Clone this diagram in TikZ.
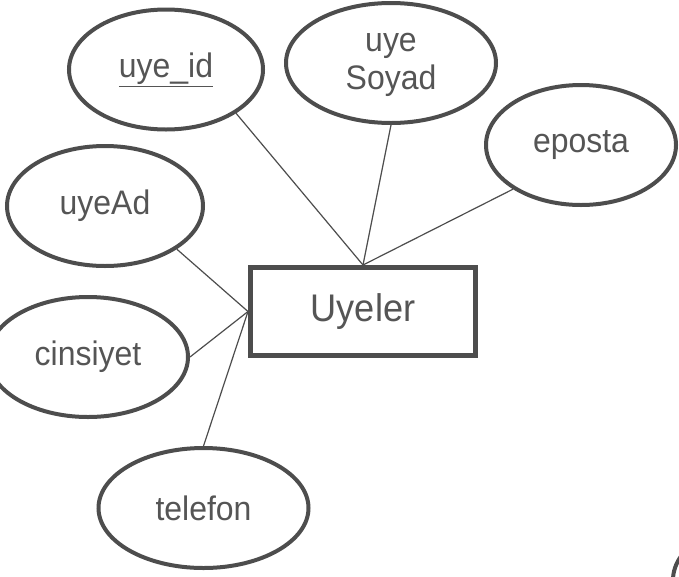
\documentclass[tikz,border=0pt]{standalone}
\usepackage{fontspec}
\setmainfont[FakeStretch=0.94]{Liberation Sans}
\usetikzlibrary{shapes.geometric}
\definecolor{ink}{HTML}{4D4D4D}
\definecolor{txt}{HTML}{555555}
\tikzset{
  attr/.style 2 args={ellipse, draw=ink, line width=4pt, minimum width=#1, minimum height=#2,
    inner sep=0pt, text=txt, font=\fontsize{34}{38}\selectfont, align=center},
  entity/.style={rectangle, draw=ink, line width=5pt, minimum width=225pt, minimum height=88pt,
    inner sep=0pt, text=txt, font=\fontsize{38.5}{42}\selectfont},
  link/.style={draw=ink, line width=1.2pt}
}
\begin{document}
\begin{tikzpicture}[x=1pt,y=-1pt]
\useasboundingbox (0,0) rectangle (679,576);
\clip (0,0) rectangle (679,576);
\fill[white] (0,0) rectangle (679,576);
\node[entity] (ent) at (363,311.5) {Uyeler};
\node[attr={194pt}{120pt}] (uid) at (166,69.5) {\underline{uye\_id}};
\node[attr={210pt}{120pt}] (soy) at (391,63) {\raisebox{-4pt}{\begin{tabular}{@{}c@{}}uye\\Soyad\end{tabular}}};
\node[attr={190pt}{120pt}] (epo) at (581,145) {eposta};
\node[attr={196pt}{120pt}] (uad) at (105,206) {uyeAd};
\node[attr={200pt}{120pt}] (cin) at (88,357) {cinsiyet};
\node[attr={210pt}{120pt}] (tel) at (203.5,508) {telefon};
\node[attr={196pt}{120pt}] (extra) at (771,580) {};
\draw[link] (uid.-32.6) -- (ent.north);
\draw[link] (soy.south) -- (ent.north);
\draw[link] (epo.-147.3) -- (ent.north);
\draw[link] (uad.-31.8) -- (ent.west);
\draw[link] (cin.east) -- (ent.west);
\draw[link] (tel.north) -- (ent.west);
\end{tikzpicture}
\end{document}
